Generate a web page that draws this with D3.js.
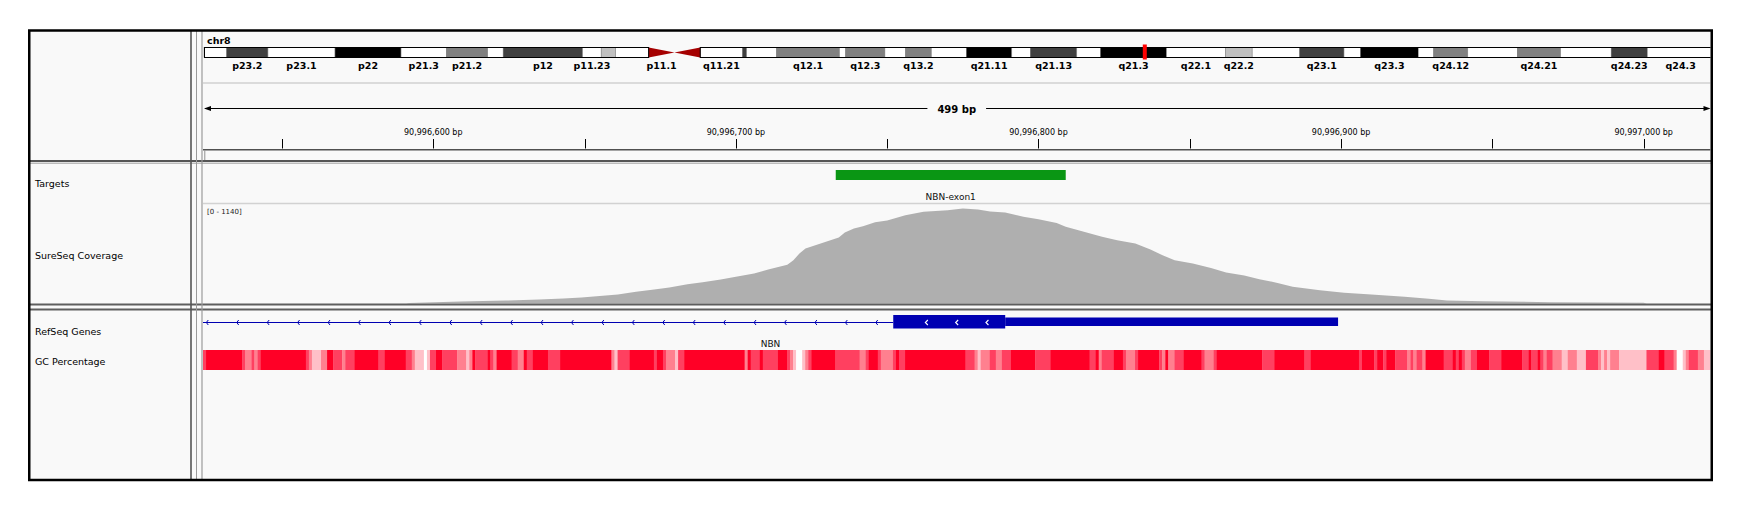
<!DOCTYPE html>
<html>
<head>
<meta charset="utf-8">
<script src="https://cdn.jsdelivr.net/npm/d3@7"></script>
<style>
body{margin:0;background:#fff;}
text{font-family:"DejaVu Sans",sans-serif;}
</style>
</head>
<body>
<svg id="chart" width="1744" height="516"></svg>
<script>
// ---- data ----
const chromName="chr8";
const chromLength=146.364022; // Mb
const bandNames=["p23.3","p23.2","p23.1","p22","p21.3","p21.2","p21.1","p12","p11.23","p11.22","p11.21","p11.1","q11.1","q11.21","q11.22","q11.23","q12.1","q12.2","q12.3","q13.1","q13.2","q13.3","q21.11","q21.12","q21.13","q21.2","q21.3","q22.1","q22.2","q22.3","q23.1","q23.2","q23.3","q24.11","q24.12","q24.13","q24.21","q24.22","q24.23","q24.3"];
const bandStarts=[0,2.2,6.2,12.7,19.1,23.5,27.5,29.0,36.7,38.5,39.9,43.1,45.6,48.1,52.2,52.6,55.5,61.6,62.2,66.0,68.0,70.5,73.9,78.3,80.1,84.6,86.9,93.3,99.0,101.6,106.2,110.5,112.1,117.7,119.2,122.5,127.3,131.5,136.4,139.9];
const bandStains=["gneg","gpos75","gneg","gpos100","gneg","gpos50","gneg","gpos75","gneg","gpos25","gneg","acen","acen","gneg","gpos75","gneg","gpos50","gneg","gpos50","gneg","gpos50","gneg","gpos100","gneg","gpos75","gneg","gpos100","gneg","gpos25","gneg","gpos75","gneg","gpos100","gneg","gpos50","gneg","gpos50","gneg","gpos75","gneg"];
const shownBandLabels=["p23.2","p23.1","p22","p21.3","p21.2","p12","p11.23","p11.1","q11.21","q12.1","q12.3","q13.2","q21.11","q21.13","q21.3","q22.1","q22.2","q23.1","q23.3","q24.12","q24.21","q24.23","q24.3"];

const viewStart=90996523.9;
const viewSpan=499;
const tickStep=50, labelStep=100;

const trackNames=["Targets","SureSeq Coverage","RefSeq Genes","GC Percentage"];

const targetName="NBN-exon1";
const targetStart=90996733, targetEnd=90996809;

const covMax=1140;
const covPos=[90996591,90996592,90996609,90996624,90996635,90996643,90996649,90996654,90996661,90996667,90996673,90996678,90996684,90996689,90996695,90996700,90996706,90996711,90996717,90996719,90996721,90996723,90996728,90996734,90996736,90996739,90996742,90996746,90996750,90996756,90996762,90996770,90996775,90996780,90996784,90996789,90996795,90996800,90996806,90996809,90996815,90996821,90996826,90996832,90996837,90996841,90996845,90996851,90996857,90996862,90996868,90996873,90996879,90996884,90996893,90996901,90996910,90996921,90996929,90996935,90996947,90996969,90997000,90997001];
const covVal=[0,7,23,34,46,57,68,83,103,133,160,182,220,243,274,304,342,391,441,494,570,627,684,752,809,855,881,927,946,1007,1045,1064,1083,1072,1049,1037,988,961,919,874,817,760,722,684,616,551,494,456,406,353,319,277,235,190,152,122,103,76,53,34,27,15,8,0];

const geneName="NBN";
const geneStart=90945564, geneEnd=90996899;
const exonStart=90996752, cdsEnd=90996789;

// GC percentage bins: start offset (bp from view start) and GC %
const gcOffsets=[0,1,13,14,16,17,18,19,34,35,
  36,39,41,43,46,47,50,58,60,67,
  69,70,73,74,75,77,79,84,87,88,
  89,90,94,95,96,97,102,104,106,107,
  109,114,118,135,136,137,141,149,150,152,
  153,156,157,159,179,180,181,184,185,190,
  193,194,195,196,198,199,200,201,209,217,
  219,220,223,224,228,229,230,232,252,255,
  256,257,260,262,264,267,275,280,293,295,
  296,297,301,304,305,308,309,316,317,318,
  319,321,324,330,331,334,335,350,354,364,
  366,382,383,387,388,390,391,394,398,399,
  400,401,403,404,410,413,414,415,416,417,
  419,421,425,429,436,438,439,441,442,443,
  444,446,449,451,454,457,461,462,463,464,
  465,468,477,481,483,486,487,489,490,491,
  494,496];
const gcPct=[62,72,62,52,62,52,62,72,62,52,
  42,52,72,62,52,62,72,62,72,62,
  52,42,30,42,62,72,62,52,42,52,
  72,62,72,62,52,72,62,52,72,62,
  72,62,72,52,42,62,72,62,72,62,
  52,42,62,72,52,72,62,72,62,72,
  62,52,42,30,42,52,62,72,62,52,
  62,72,62,52,62,72,62,72,62,52,
  42,52,62,52,62,72,62,72,62,72,
  52,62,72,62,52,62,72,62,52,72,
  52,62,72,62,52,62,72,62,72,62,
  72,62,72,62,72,62,72,62,52,62,
  52,62,52,72,62,72,62,72,62,52,
  62,72,62,72,62,72,62,72,62,52,
  62,52,42,52,42,62,52,42,52,42,
  52,42,62,72,62,52,30,42,52,62,
  52,42];
const gcEndOffset=499;

// ---- drawing ----
const svg=d3.select("#chart");
const dataLeft=203, dataRight=1710.5;

svg.append("rect").attr("width",1744).attr("height",516).attr("fill","#fff");
svg.append("rect").attr("x",30).attr("y",31).attr("width",1681).attr("height",448).attr("fill","#f9f9f9");

const defs=svg.append("defs");
defs.append("clipPath").attr("id","dataClip")
  .append("rect").attr("x",dataLeft).attr("y",31).attr("width",dataRight-dataLeft).attr("height",448);

const x=d3.scaleLinear().domain([viewStart,viewStart+viewSpan]).range([203,1713]);
const data=svg.append("g").attr("clip-path","url(#dataClip)");

// ideogram
const ideo=d3.scaleLinear().domain([0,chromLength]).range([204,1714]);
const bandColor={gneg:"#ffffff",gpos25:"#c0c0c0",gpos50:"#808080",gpos75:"#404040",gpos100:"#000000",acen:"#a50000"};
const bands=bandNames.map((n,i)=>({
  name:n,
  start:bandStarts[i],
  end:i<bandStarts.length-1?bandStarts[i+1]:chromLength,
  stain:bandStains[i]
}));

svg.append("text").attr("x",207).attr("y",43.5)
  .style("font-weight","bold").style("font-size","9.5px").text(chromName);

const ideoG=data.append("g");
ideoG.selectAll("rect.band")
  .data(bands.filter(b=>b.stain!=="acen"))
  .enter().append("rect")
    .attr("class","band")
    .attr("x",d=>ideo(d.start))
    .attr("y",47.5)
    .attr("width",d=>ideo(d.end)-ideo(d.start))
    .attr("height",10)
    .attr("fill",d=>bandColor[d.stain])
    .attr("stroke","#777")
    .attr("stroke-width",0.5);

const acen=bands.filter(b=>b.stain==="acen");
ideoG.append("path")
  .attr("d",`M${ideo(acen[0].start)},47.5L${ideo(acen[0].start)},57.5L${ideo(acen[0].end)},52.5Z`)
  .attr("fill",bandColor.acen);
ideoG.append("path")
  .attr("d",`M${ideo(acen[1].end)},47.5L${ideo(acen[1].end)},57.5L${ideo(acen[1].start)},52.5Z`)
  .attr("fill",bandColor.acen);
// arm outlines
ideoG.append("rect")
  .attr("x",ideo(0)+0.5).attr("y",47.5)
  .attr("width",ideo(acen[0].start)-ideo(0)-0.5).attr("height",10)
  .attr("fill","none").attr("stroke","#000").attr("stroke-width",1);
ideoG.append("rect")
  .attr("x",ideo(acen[1].end)).attr("y",47.5)
  .attr("width",ideo(chromLength)-ideo(acen[1].end)).attr("height",10)
  .attr("fill","none").attr("stroke","#000").attr("stroke-width",1);
// current region marker
ideoG.append("rect")
  .attr("x",ideo(viewStart/1e6))
  .attr("y",44.5)
  .attr("width",Math.max(4,ideo((viewStart+viewSpan)/1e6)-ideo(viewStart/1e6)))
  .attr("height",15)
  .attr("fill","#ff0000");

ideoG.selectAll("text.bandLabel")
  .data(bands.filter(b=>shownBandLabels.includes(b.name)))
  .enter().append("text")
    .attr("class","bandLabel")
    .attr("x",d=>ideo((d.start+d.end)/2))
    .attr("y",68.5)
    .attr("text-anchor","middle")
    .style("font-weight","bold")
    .style("font-size","9.5px")
    .text(d=>d.name);

// ruler
data.append("line").attr("x1",dataLeft).attr("x2",dataRight).attr("y1",83).attr("y2",83)
  .attr("stroke","#d0d0d0").attr("stroke-width",1.5);

const rulerY=108.5;
const mid=(dataLeft+dataRight)/2;
const spanLabel=data.append("text")
  .attr("x",mid).attr("y",112.5)
  .attr("text-anchor","middle")
  .style("font-weight","bold").style("font-size","10px")
  .text(`${Math.round(viewSpan)} bp`);
const half=spanLabel.node().getComputedTextLength()/2+10;
data.append("line").attr("x1",205).attr("x2",mid-half).attr("y1",rulerY).attr("y2",rulerY).attr("stroke","#000");
data.append("line").attr("x1",mid+half).attr("x2",dataRight-2).attr("y1",rulerY).attr("y2",rulerY).attr("stroke","#000");
data.append("path").attr("d",`M204,${rulerY}L211,${rulerY-2.5}L211,${rulerY+2.5}Z`).attr("fill","#000");
data.append("path").attr("d",`M${dataRight},${rulerY}L${dataRight-7},${rulerY-2.5}L${dataRight-7},${rulerY+2.5}Z`).attr("fill","#000");

const ticks=d3.range(Math.ceil(viewStart/tickStep)*tickStep,viewStart+viewSpan,tickStep);
data.selectAll("line.tick").data(ticks).enter().append("line")
  .attr("class","tick")
  .attr("x1",d=>Math.round(x(d))+0.5).attr("x2",d=>Math.round(x(d))+0.5)
  .attr("y1",139).attr("y2",148.5)
  .attr("stroke","#000");
data.selectAll("text.tickLabel").data(ticks.filter(t=>t%labelStep===0)).enter().append("text")
  .attr("class","tickLabel")
  .attr("x",d=>x(d)).attr("y",134.5)
  .attr("text-anchor","middle")
  .style("font-size","8px")
  .text(d=>`${d3.format(",")(d)} bp`);
data.append("line").attr("x1",dataLeft).attr("x2",dataRight).attr("y1",149.8).attr("y2",149.8)
  .attr("stroke","#505050").attr("stroke-width",1.5);
data.append("line").attr("x1",204.8).attr("x2",204.8).attr("y1",150.5).attr("y2",160)
  .attr("stroke","#909090");

// targets track
data.append("rect")
  .attr("x",x(targetStart)).attr("y",170)
  .attr("width",x(targetEnd)-x(targetStart)).attr("height",10)
  .attr("fill","#0a9614");
data.append("text")
  .attr("x",(x(targetStart)+x(targetEnd))/2).attr("y",199.5)
  .attr("text-anchor","middle").style("font-size","9px").attr("fill","#111")
  .text(targetName);
data.append("line").attr("x1",dataLeft).attr("x2",dataRight).attr("y1",203.5).attr("y2",203.5)
  .attr("stroke","#d2d2d2").attr("stroke-width",1.5);

// coverage track
const y=d3.scaleLinear().domain([0,covMax]).range([303.5,203.5]);
const cov=covPos.map((p,i)=>[p,covVal[i]]);
data.append("path")
  .datum(cov)
  .attr("fill","#afafaf")
  .attr("d",d3.area().x(d=>x(d[0])).y0(y(0)).y1(d=>y(d[1])).curve(d3.curveLinear));
data.append("text").attr("x",207).attr("y",214).style("font-size","7px").attr("fill","#222")
  .text(`[0 - ${covMax}]`);

// refseq gene
const geneColor="#0000b2";
const geneY=322.5;
const visLeft=Math.max(x(geneStart),dataLeft);
data.append("line")
  .attr("x1",visLeft).attr("x2",x(exonStart))
  .attr("y1",geneY).attr("y2",geneY)
  .attr("stroke",geneColor).attr("stroke-width",1.2);
data.selectAll("path.intronArrow")
  .data(d3.range(visLeft+3.3,x(exonStart)-8,30.43))
  .enter().append("path")
    .attr("class","intronArrow")
    .attr("d",d=>`M${d+2},${geneY-2.5}L${d},${geneY}L${d+2},${geneY+2.5}`)
    .attr("fill","none").attr("stroke",geneColor).attr("stroke-width",1);
data.append("rect")
  .attr("x",x(cdsEnd)).attr("y",317.5)
  .attr("width",x(geneEnd)-x(cdsEnd)).attr("height",8.5)
  .attr("fill",geneColor);
data.append("rect")
  .attr("x",x(exonStart)).attr("y",315)
  .attr("width",x(cdsEnd)-x(exonStart)).attr("height",13.5)
  .attr("fill",geneColor);
data.selectAll("path.exonArrow")
  .data(d3.range(x(exonStart)+32.4,x(cdsEnd)-10,30.3))
  .enter().append("path")
    .attr("class","exonArrow")
    .attr("d",d=>`M${d+2.2},${geneY-2.5}L${d-0.3},${geneY}L${d+2.2},${geneY+2.5}`)
    .attr("fill","none").attr("stroke","#fff").attr("stroke-width",1.1);
data.append("text")
  .attr("x",(visLeft+x(geneEnd))/2).attr("y",346.5)
  .attr("text-anchor","middle").style("font-size","9px").attr("fill","#111")
  .text(geneName);

// GC percentage
const gcColor=d3.scaleThreshold().domain([35,47,57,67])
  .range(["#ffffff","#ffc0c8","#ff808f","#ff4060","#ff0026"]);
const gcBins=gcOffsets.map((o,i)=>({
  start:viewStart+o,
  end:viewStart+(i<gcOffsets.length-1?gcOffsets[i+1]:gcEndOffset),
  pct:gcPct[i]
}));
data.selectAll("rect.gc").data(gcBins).enter().append("rect")
  .attr("class","gc")
  .attr("x",d=>x(d.start))
  .attr("y",350)
  .attr("width",d=>x(d.end)-x(d.start)+0.3)
  .attr("height",20)
  .attr("fill",d=>gcColor(d.pct));

// track names
const nameY=[186.5,258.5,334.5,364.5];
svg.selectAll("text.trackName").data(trackNames).enter().append("text")
  .attr("class","trackName")
  .attr("x",35).attr("y",(d,i)=>nameY[i])
  .style("font-size","9.5px")
  .text(d=>d);

// panel dividers
const hline=(yy,col,w,x1=30,x2=1711)=>svg.append("line")
  .attr("x1",x1).attr("x2",x2).attr("y1",yy).attr("y2",yy)
  .attr("stroke",col).attr("stroke-width",w);
hline(161,"#555",2);
hline(163.2,"#a0a0a0",1);
hline(304.4,"#5e5e5e",2);
hline(309.5,"#5e5e5e",2);
const vline=(xx,col,w)=>svg.append("line")
  .attr("x1",xx).attr("x2",xx).attr("y1",31).attr("y2",479)
  .attr("stroke",col).attr("stroke-width",w);
vline(191,"#555",1.6);
vline(196.5,"#9a9a9a",1);
vline(202,"#9a9a9a",1.2);

// outer frame
svg.append("rect")
  .attr("x",29.25).attr("y",30.5)
  .attr("width",1682.5).attr("height",449.5)
  .attr("fill","none").attr("stroke","#000").attr("stroke-width",2.5);
</script>
</body>
</html>
